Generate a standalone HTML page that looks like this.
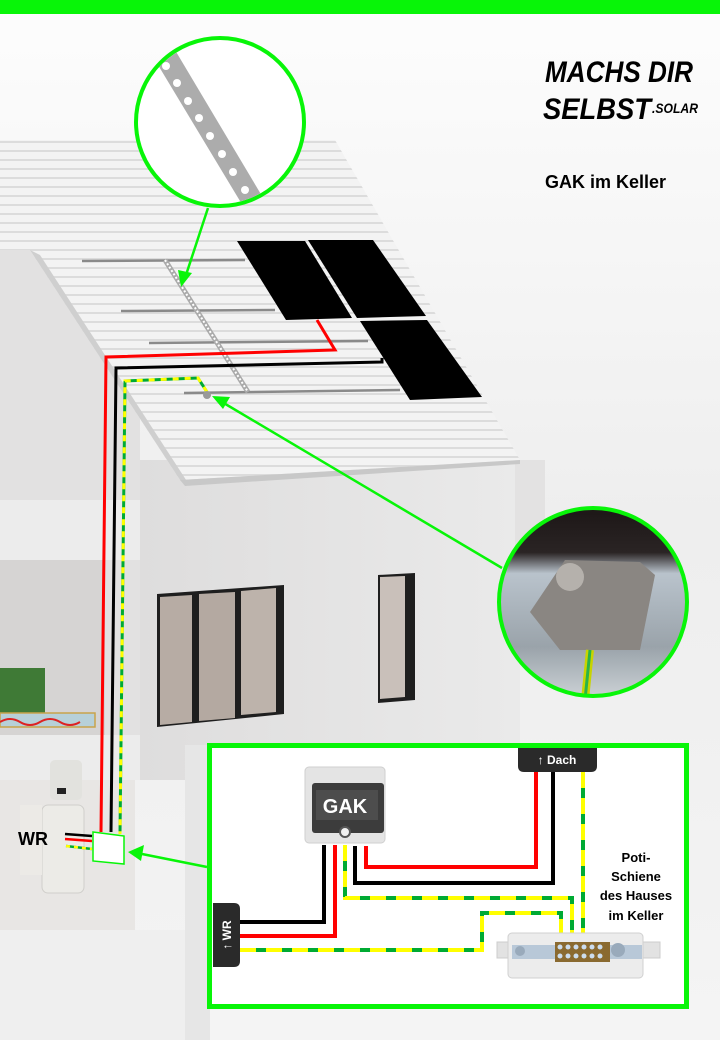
<!DOCTYPE html>
<html><head><meta charset="utf-8"><style>
html,body{margin:0;padding:0;background:#fff;}
svg{display:block;}
text{font-family:"Liberation Sans",sans-serif;}
</style></head><body>
<svg width="720" height="1040" viewBox="0 0 720 1040" xmlns="http://www.w3.org/2000/svg">
<defs>
<linearGradient id="bg" x1="0" y1="0" x2="0" y2="1">
<stop offset="0" stop-color="#fdfdfd"/><stop offset="0.5" stop-color="#eeeeee"/><stop offset="1" stop-color="#f4f4f4"/>
</linearGradient>
<linearGradient id="wall" x1="0" y1="0" x2="1" y2="0">
<stop offset="0" stop-color="#dedddd"/><stop offset="1" stop-color="#eaeaea"/>
</linearGradient>
<linearGradient id="photo" x1="0" y1="0" x2="0" y2="1">
<stop offset="0" stop-color="#1a1414"/><stop offset="0.25" stop-color="#2a2424"/><stop offset="0.35" stop-color="#b9c3cc"/><stop offset="0.7" stop-color="#9aa3aa"/><stop offset="1" stop-color="#d8dde0"/>
</linearGradient>
<pattern id="stripes" width="10" height="9" patternUnits="userSpaceOnUse">
<rect width="10" height="9" fill="#f3f3f3"/><rect y="6" width="10" height="2" fill="#dcdcdc"/>
</pattern>
</defs>
<rect width="720" height="1040" fill="url(#bg)"/>
<rect width="720" height="14" fill="#08f508"/>

<!-- left house parts -->
<rect x="0" y="250" width="140" height="520" fill="#e2e1e1"/>
<rect x="0" y="500" width="140" height="60" fill="#ececec"/>
<rect x="0" y="560" width="105" height="180" fill="#d6d4d3"/>
<rect x="0" y="735" width="140" height="45" fill="#ececec"/>
<rect x="0" y="780" width="135" height="150" fill="#e8e6e4"/>
<rect x="0" y="930" width="200" height="110" fill="#efefef"/>
<rect x="0" y="668" width="45" height="45" fill="#3f7a36"/>
<rect x="0" y="713" width="95" height="14" fill="#b7d0d8" stroke="#c9a34a" stroke-width="1.5"/>
<path d="M0 722 Q10 716 20 722 T40 722 T60 722 T80 722" stroke="#d22" stroke-width="2" fill="none"/>
<!-- WR device -->
<rect x="50" y="760" width="32" height="40" rx="5" fill="#e2e2de"/>
<rect x="42" y="805" width="42" height="88" rx="6" fill="#ecebe7" stroke="#d0cfcb"/>
<rect x="20" y="805" width="22" height="70" fill="#eceae6"/>
<rect x="57" y="788" width="9" height="6" fill="#222"/>

<!-- main house wall -->
<rect x="140" y="460" width="380" height="320" fill="url(#wall)"/>
<rect x="515" y="460" width="30" height="90" fill="#e3e2e2"/>
<rect x="185" y="745" width="25" height="295" fill="#e6e6e6"/>
<!-- windows -->
<polygon points="157,594 284,585 284,714 157,727" fill="#1e1e1e"/>
<polygon points="160,597 192,595 192,722 160,725" fill="#b7aca4"/>
<polygon points="199,594 235,592 235,718 199,721" fill="#b4a9a1"/>
<polygon points="241,591 276,588 276,712 241,715" fill="#bdb3ab"/>
<polygon points="378,575 415,573 415,700 378,703" fill="#1e1e1e"/>
<polygon points="380,577 405,576 405,697 380,699" fill="#c9c0ba"/>

<!-- back roof -->
<polygon points="0,140 335,140 520,460 180,480 30,250 0,250" fill="url(#stripes)"/>
<polygon points="30,250 180,480 190,486 40,255" fill="#cfcfcf"/>
<polygon points="180,480 520,460 520,464 185,486" fill="#c8c8c8"/>

<!-- rails -->
<g stroke="#8a8a8a" stroke-width="2.5">
<line x1="82" y1="261" x2="245" y2="260"/>
<line x1="121" y1="311" x2="275" y2="310"/>
<line x1="149" y1="343" x2="368" y2="341"/>
<line x1="184" y1="393" x2="400" y2="390"/>
</g>
<!-- panels -->
<polygon points="237,241 305,241 352,318 286,320" fill="#000"/>
<polygon points="308,240 373,240 426,316 357,318" fill="#000"/>
<polygon points="360,321 427,320 482,397 410,400" fill="#000"/>
<!-- strip -->
<line x1="165" y1="260" x2="248" y2="392" stroke="#aaa" stroke-width="5"/>
<line x1="165" y1="260" x2="248" y2="392" stroke="#fff" stroke-width="2" stroke-dasharray="2 2"/>

<!-- roof wires -->
<polyline points="317,320 335,350 106,357 101,832" fill="none" stroke="#f00" stroke-width="3"/>
<polyline points="382,358 382,362 116,368 111,832" fill="none" stroke="#000" stroke-width="3"/>
<polyline points="207,392 198,378 125,381 120,834" fill="none" stroke="#0a3" stroke-width="3"/>
<polyline points="207,392 198,378 125,381 120,834" fill="none" stroke="#ff0" stroke-width="3" stroke-dasharray="6 6"/>
<circle cx="207" cy="395" r="4" fill="#999"/>

<!-- circle 1 -->
<circle cx="220" cy="122" r="84" fill="#fff" stroke="#08f508" stroke-width="4"/>
<clipPath id="c1"><circle cx="220" cy="122" r="82"/></clipPath>
<g clip-path="url(#c1)">
<polygon points="155,60 175,50 262,196 243,206" fill="#acacac"/>
<g fill="#fff"><circle cx="166" cy="66" r="4"/><circle cx="177" cy="83" r="4"/><circle cx="188" cy="101" r="4"/><circle cx="199" cy="118" r="4"/><circle cx="210" cy="136" r="4"/><circle cx="222" cy="154" r="4"/><circle cx="233" cy="172" r="4"/><circle cx="245" cy="190" r="4"/></g>
</g>
<line x1="208" y1="208" x2="186" y2="275" stroke="#08f508" stroke-width="2.5"/>
<polygon points="181,287 178,270 192,273" fill="#08f508"/>

<!-- circle 2 -->
<line x1="502" y1="568" x2="222" y2="402" stroke="#08f508" stroke-width="2.5"/>
<polygon points="212,396 230,397 223,409" fill="#08f508"/>
<clipPath id="c2"><circle cx="593" cy="602" r="94"/></clipPath>
<g clip-path="url(#c2)">
<rect x="490" y="500" width="210" height="210" fill="url(#photo)"/>
<polygon points="530,612 565,560 640,562 655,575 640,650 560,650" fill="#8a8682"/>
<circle cx="570" cy="577" r="14" fill="#b5b1ac"/>
<line x1="590" y1="650" x2="583" y2="720" stroke="#c8d400" stroke-width="8"/>
<line x1="590" y1="650" x2="583" y2="720" stroke="#29b34a" stroke-width="3"/>
</g>
<circle cx="593" cy="602" r="94" fill="none" stroke="#08f508" stroke-width="4"/>

<!-- logo -->
<text x="545" y="82" font-size="30" font-weight="bold" font-style="italic" textLength="148" lengthAdjust="spacingAndGlyphs">MACHS DIR</text>
<text x="543" y="119" font-size="30" font-weight="bold" font-style="italic" textLength="108" lengthAdjust="spacingAndGlyphs">SELBST</text>
<text x="652" y="113" font-size="14" font-weight="bold" font-style="italic" textLength="46" lengthAdjust="spacingAndGlyphs">.SOLAR</text>
<text x="545" y="188" font-size="18" font-weight="bold">GAK im Keller</text>

<!-- WR label and box -->
<text x="18" y="845" font-size="18" font-weight="bold">WR</text>
<line x1="65" y1="834" x2="92" y2="836" stroke="#000" stroke-width="2.5"/>
<line x1="65" y1="839" x2="92" y2="841" stroke="#f00" stroke-width="2.5"/>
<line x1="66" y1="846" x2="92" y2="849" stroke="#0a3" stroke-width="2.5"/>
<line x1="66" y1="846" x2="92" y2="849" stroke="#ff0" stroke-width="2.5" stroke-dasharray="4 4"/>
<polygon points="93,832 124,836 124,864 93,861" fill="#fff" stroke="#08f508" stroke-width="1.5"/>
<line x1="207" y1="867" x2="142" y2="854" stroke="#08f508" stroke-width="2.5"/>
<polygon points="128,852 144,845 141,861" fill="#08f508"/>

<!-- detail box -->
<rect x="209.5" y="745.5" width="477" height="261" fill="#fff" stroke="#08f508" stroke-width="5"/>
<path d="M518 748 H597 V766 Q597 772 591 772 H524 Q518 772 518 766 Z" fill="#2a2a2a"/>
<text x="557" y="764" font-size="12" font-weight="bold" fill="#fff" text-anchor="middle">↑ Dach</text>
<path d="M213 903 H234 Q240 903 240 909 V961 Q240 967 234 967 H213 Z" fill="#2a2a2a"/>
<text transform="translate(231,935) rotate(-90)" font-size="12" font-weight="bold" fill="#fff" text-anchor="middle">↑ WR</text>

<!-- GAK -->
<rect x="305" y="767" width="80" height="76" rx="4" fill="#e4e4e4" stroke="#cfcfcf"/>
<rect x="312" y="783" width="72" height="50" rx="3" fill="#3c3c3c"/>
<rect x="316" y="790" width="62" height="30" fill="#4d4d4d"/>
<text x="345" y="813" font-size="20" font-weight="bold" fill="#fff" text-anchor="middle">GAK</text>
<circle cx="345" cy="832" r="5" fill="#f0f0f0" stroke="#555" stroke-width="2"/>

<!-- box wires -->
<polyline points="324,845 324,922 240,922" fill="none" stroke="#000" stroke-width="4"/>
<polyline points="335,845 335,936 240,936" fill="none" stroke="#f00" stroke-width="4"/>
<polyline points="355,846 355,883 553,883 553,772" fill="none" stroke="#000" stroke-width="4"/>
<polyline points="366,846 366,867 536,867 536,772" fill="none" stroke="#f00" stroke-width="4"/>
<g fill="none" stroke-width="4">
<polyline points="345,845 345,898 572,898 572,935" stroke="#0a3"/>
<polyline points="345,845 345,898 572,898 572,935" stroke="#ff0" stroke-dasharray="16 10"/>
<polyline points="583,772 583,935" stroke="#0a3"/>
<polyline points="583,772 583,935" stroke="#ff0" stroke-dasharray="16 10"/>
<polyline points="240,950 482,950 482,913 561,913 561,935" stroke="#0a3"/>
<polyline points="240,950 482,950 482,913 561,913 561,935" stroke="#ff0" stroke-dasharray="16 10"/>
</g>

<!-- Poti rail -->
<path d="M497 942 H660 L660 958 H497 Z" fill="#e2e2e2" stroke="#ccc"/>
<rect x="508" y="933" width="135" height="45" rx="4" fill="#ececec" stroke="#d0d0d0"/>
<rect x="512" y="945" width="130" height="14" fill="#b8c8d8"/>
<rect x="555" y="942" width="55" height="20" fill="#8a6a30"/>
<g fill="#cde"><circle cx="560" cy="947" r="2.5"/><circle cx="568" cy="947" r="2.5"/><circle cx="576" cy="947" r="2.5"/><circle cx="584" cy="947" r="2.5"/><circle cx="592" cy="947" r="2.5"/><circle cx="600" cy="947" r="2.5"/><circle cx="560" cy="956" r="2.5"/><circle cx="568" cy="956" r="2.5"/><circle cx="576" cy="956" r="2.5"/><circle cx="584" cy="956" r="2.5"/><circle cx="592" cy="956" r="2.5"/><circle cx="600" cy="956" r="2.5"/></g>
<circle cx="618" cy="950" r="7" fill="#9ab"/>
<circle cx="520" cy="951" r="5" fill="#9ab"/>

<g font-size="13" font-weight="bold" text-anchor="middle">
<text x="636" y="862">Poti-</text>
<text x="636" y="881">Schiene</text>
<text x="636" y="900">des Hauses</text>
<text x="636" y="920">im Keller</text>
</g>
</svg>
</body></html>
